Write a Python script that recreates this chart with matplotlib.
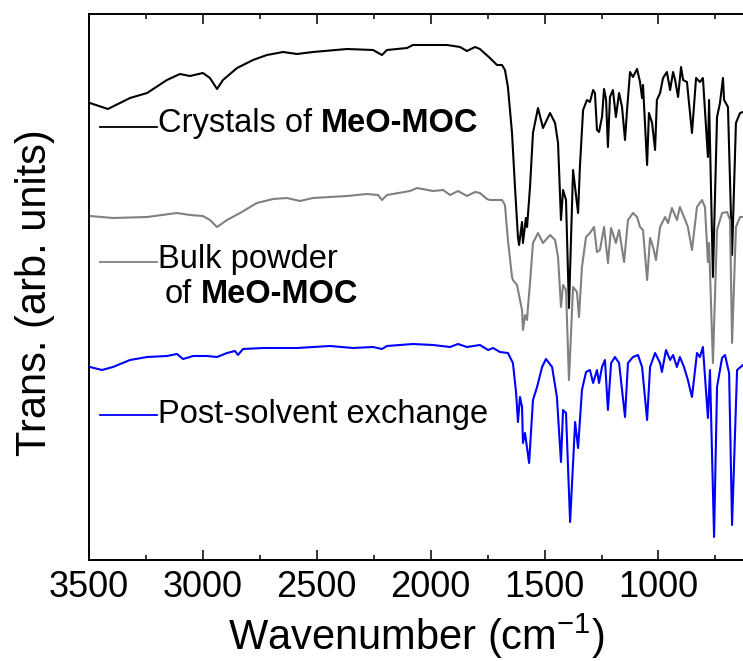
import matplotlib
matplotlib.use("Agg")
import matplotlib.pyplot as plt
from matplotlib.ticker import MultipleLocator

plt.rcParams['font.family'] = ['Liberation Sans', 'DejaVu Sans']
plt.rcParams['mathtext.fontset'] = 'custom'
plt.rcParams['mathtext.rm'] = 'Liberation Sans'
plt.rcParams['mathtext.it'] = 'Liberation Sans:italic'
plt.rcParams['mathtext.bf'] = 'Liberation Sans:bold'

# ---------------- data (wavenumber in cm^-1, transmittance in arb. units) ----------------
wn_crystal = [3496, 3417, 3320, 3245, 3158, 3101, 3057, 3000, 2969, 2938, 2912, 2850, 2780, 2719,
              2648, 2587, 2517, 2367, 2253, 2214, 2192, 2104, 2078, 2003, 1928, 1871, 1841, 1805,
              1784, 1740, 1709, 1687, 1674, 1661, 1643, 1630, 1617, 1612, 1599, 1595, 1582, 1577,
              1564, 1551, 1529, 1507, 1476, 1454, 1441, 1428, 1419, 1406, 1393, 1375, 1353, 1345,
              1331, 1314, 1301, 1287, 1279, 1270, 1261, 1248, 1239, 1230, 1222, 1213, 1200, 1187,
              1173, 1160, 1147, 1138, 1125, 1112, 1094, 1081, 1072, 1068, 1050, 1042, 1028, 1015,
              1007, 993, 980, 963, 949, 936, 927, 914, 901, 892, 875, 853, 835, 818, 805, 783, 778,
              761, 743, 730, 717, 712, 695, 677, 660, 642, 629]
T_crystal = [457, 451, 462, 467, 480, 486, 484, 487, 482, 471, 480, 492, 500, 505,
             508, 506, 508, 511, 510, 505, 510, 512, 515, 515, 515, 513, 509, 513,
             511, 502, 495, 495, 490, 473, 427, 373, 323, 315, 338, 317, 342, 333,
             373, 427, 452, 432, 447, 437, 417, 340, 370, 360, 252, 390, 347, 393,
             450, 460, 458, 470, 467, 430, 428, 443, 471, 460, 413, 463, 470, 443,
             467, 453, 420, 450, 488, 483, 491, 478, 462, 475, 395, 447, 437, 410,
             460, 467, 482, 488, 470, 488, 480, 463, 493, 480, 478, 427, 482, 478, 482, 403, 460,
             283, 443, 457, 482, 460, 453, 305, 437, 447, 448]

wn_bulk = [3496, 3395, 3245, 3114, 3057, 3000, 2969, 2938, 2894, 2837, 2763, 2692, 2631, 2574,
           2517, 2367, 2280, 2231, 2214, 2192, 2091, 2060, 1990, 1946, 1915, 1880, 1841, 1805,
           1784, 1753, 1740, 1687, 1674, 1661, 1643, 1639, 1621, 1608, 1599, 1595, 1586, 1577,
           1573, 1564, 1551, 1529, 1507, 1476, 1454, 1441, 1428, 1419, 1406, 1393, 1375, 1358,
           1349, 1336, 1318, 1301, 1283, 1270, 1257, 1239, 1222, 1208, 1187, 1173, 1151, 1134,
           1112, 1094, 1081, 1068, 1050, 1037, 1024, 1011, 993, 971, 958, 941, 919, 906, 888,
           871, 853, 831, 809, 796, 783, 778, 761, 743, 721, 699, 686, 677, 660, 642, 629]
T_bulk = [344, 342, 343, 347, 345, 344, 340, 333, 340, 347, 357, 361, 362, 359,
          362, 364, 366, 365, 360, 365, 369, 372, 369, 370, 365, 369, 364, 368,
          367, 361, 360, 360, 355, 320, 283, 280, 275, 260, 250, 230, 245, 240,
          253, 277, 317, 327, 317, 325, 320, 303, 253, 275, 270, 180, 273, 268,
          243, 293, 323, 327, 333, 308, 310, 333, 297, 332, 317, 330, 298, 340,
          347, 343, 333, 330, 280, 322, 313, 300, 333, 343, 337, 352, 340, 353, 343,
          333, 310, 353, 360, 353, 298, 317, 197, 330, 347, 348, 340, 217, 333, 343, 343]

wn_post = [3496, 3443, 3395, 3320, 3245, 3158, 3114, 3087, 3043, 2982, 2938, 2894, 2859, 2846,
           2824, 2736, 2587, 2442, 2341, 2253, 2214, 2192, 2078, 1990, 1915, 1880, 1841, 1784,
           1748, 1726, 1696, 1661, 1639, 1625, 1617, 1608, 1599, 1595, 1586, 1568, 1551, 1533,
           1511, 1494, 1467, 1446, 1428, 1419, 1406, 1388, 1366, 1353, 1336, 1318, 1301, 1287,
           1270, 1261, 1248, 1235, 1222, 1208, 1191, 1173, 1147, 1134, 1112, 1090, 1072, 1050,
           1037, 1015, 993, 985, 967, 949, 936, 919, 906, 888, 871, 853, 831, 818, 805, 783,
           774, 756, 743, 721, 708, 690, 677, 655, 629]
T_post = [193, 190, 193, 200, 203, 204, 206, 201, 204, 204, 203, 207, 209, 205,
          211, 212, 212, 214, 212, 213, 211, 214, 216, 215, 213, 216, 213, 215,
          210, 212, 208, 207, 197, 167, 138, 163, 153, 117, 127, 97, 160, 173,
          193, 201, 193, 163, 98, 150, 147, 38, 138, 112, 170, 188, 190, 177,
          190, 177, 193, 200, 150, 197, 203, 197, 143, 197, 203, 205, 193, 140,
          193, 207, 197, 188, 210, 200, 205, 193, 203, 193, 180, 163, 207, 203, 213, 142,
          190, 23, 173, 202, 205, 187, 35, 190, 195]

series_labels = ["Crystals of", "Bulk powder", "of", "Post-solvent exchange"]
bold_name = "MeO-MOC"
series_colors = ["#000000", "#808080", "#0000ff"]
x_ticks = [3500, 3000, 2500, 2000, 1500, 1000]
x_label = "Wavenumber (cm$^{\\mathregular{-1}}$)"
y_label = "Trans. (arb. units)"

# ---------------- figure ----------------
W, H = 743, 661
fig = plt.figure(figsize=(W / 100, H / 100), dpi=100)
ax = fig.add_axes([89 / W, (H - 560) / H, (W - 89) / W, 546 / H])

lw = 1.5
ax.plot(wn_crystal, T_crystal, color=series_colors[0], lw=lw)
ax.plot(wn_bulk, T_bulk, color=series_colors[1], lw=lw)
ax.plot(wn_post, T_post, color=series_colors[2], lw=lw)

ax.set_xlim(3500, 629)
ax.set_ylim(0, 546)

for s in ['left', 'bottom', 'top']:
    ax.spines[s].set_linewidth(1.4)
ax.spines['right'].set_visible(False)

ax.set_xticks(x_ticks)
ax.set_xticklabels([str(v) for v in x_ticks])
ax.xaxis.set_minor_locator(MultipleLocator(250))
ax.tick_params(axis='x', which='major', direction='in', top=True, length=7, width=1.1,
               labelsize=26, pad=7)
ax.tick_params(axis='x', which='minor', direction='in', top=True, length=3.5, width=1.1)
ax.set_yticks([])

ax.set_xlabel(x_label, fontsize=30)
ax.xaxis.label.set_va('baseline')
ax.xaxis.set_label_coords(0.5, (560 - 650) / 546)
ax.set_ylabel(y_label, fontsize=30)
ax.yaxis.set_label_coords((55 - 89) / 654, 0.49)

# legend-like annotations
fs = 23.5
line_x = [(100 - 89) / 654, (157 - 89) / 654]
line_y = [(560 - 127) / 546, (560 - 262) / 546, (560 - 415) / 546]
for yy, c in zip(line_y, series_colors):
    ax.plot(line_x, [yy, yy], color=c, lw=1.3, transform=ax.transAxes, clip_on=False)

tx = (158 - 89) / 654
t1 = ax.text(tx, (560 - 132) / 546, series_labels[0], fontsize=fs, va='baseline',
             transform=ax.transAxes)
ax.annotate(bold_name, xy=(1, 0), xycoords=t1, xytext=(6.5, 0), textcoords='offset points',
            fontsize=fs, fontweight='bold', va='bottom', ha='left')
ax.text(tx, (560 - 268) / 546, series_labels[1], fontsize=fs, va='baseline',
        transform=ax.transAxes)
t3 = ax.text((165 - 89) / 654, (560 - 303) / 546, series_labels[2], fontsize=fs,
             va='baseline', transform=ax.transAxes)
ax.annotate(bold_name, xy=(1, 0), xycoords=t3, xytext=(6.5, 0), textcoords='offset points',
            fontsize=fs, fontweight='bold', va='bottom', ha='left')
ax.text(tx, (560 - 423) / 546, series_labels[3], fontsize=fs, va='baseline',
        transform=ax.transAxes)

fig.savefig("out.png", dpi=100)
